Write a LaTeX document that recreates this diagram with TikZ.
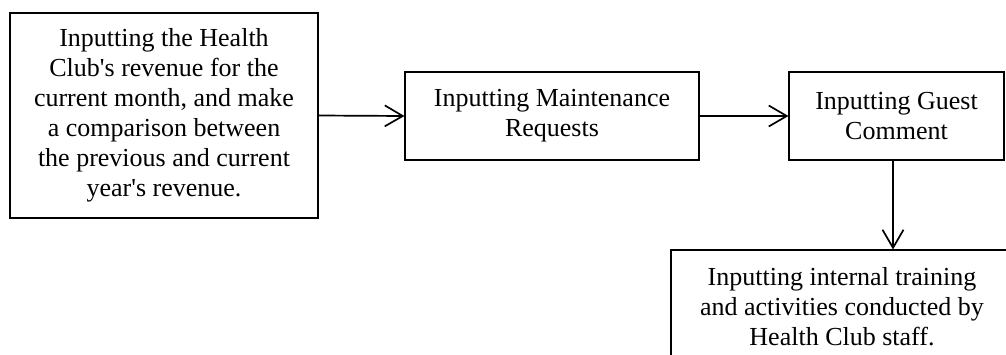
\documentclass[tikz,border=0pt]{standalone}
\usepackage{fontspec}
\setmainfont{Liberation Serif}
\usetikzlibrary{arrows.meta}
\begin{document}
\begin{tikzpicture}[x=0.5pt,y=-0.5pt,
  box node/.style={draw,line width=0.55pt,align=center,inner sep=0pt,
    font=\fontsize{13}{15}\selectfont},
  flow/.style={line width=0.85pt,-{Straight Barb[length=9pt,width=10.5pt,line width=0.85pt]}}]
  \useasboundingbox (0,0) rectangle (1006,354);
  \clip (0,0) rectangle (1006,354);
  \node[box node,minimum width=154pt,minimum height=102.5pt] (revenue) at (164,115.5)
    {Inputting the Health\\Club\textquotesingle s revenue for the\\current month, and make\\a comparison between\\the previous and current\\year\textquotesingle s revenue.};
  \node[box node,minimum width=147pt,minimum height=44pt] (maint) at (552,116)
    {Inputting Maintenance\\Requests};
  \node[box node,minimum width=107.5pt,minimum height=44pt] (guest) at (896.5,116)
    {Inputting Guest\\Comment};
  \node[box node,minimum width=171pt,minimum height=57pt] (training) at (842,307)
    {Inputting internal training\\and activities conducted by\\Health Club staff.};
  \draw[flow] (revenue.east) -- (maint.west);
  \draw[flow] (maint.east) -- (guest.west);
  \draw[flow] ([xshift=-1.75pt]guest.south) -- ([xshift=-1.75pt]guest.south |- training.north);
\end{tikzpicture}
\end{document}
